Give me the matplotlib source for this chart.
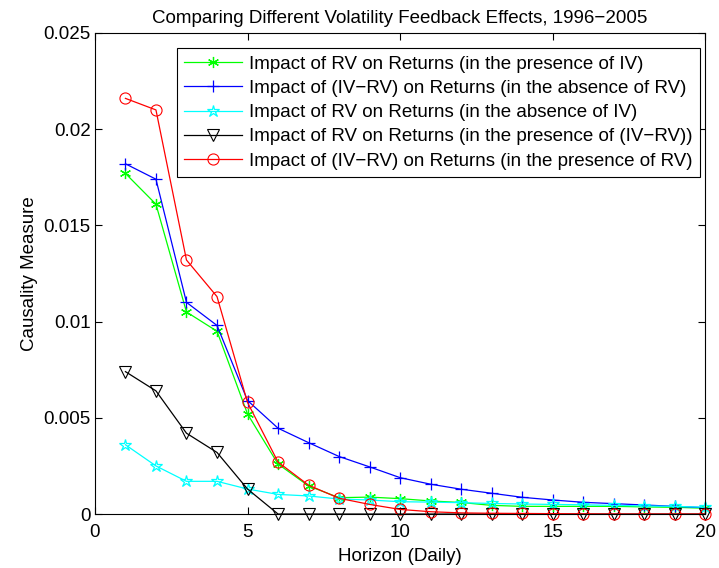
import matplotlib.pyplot as plt
import numpy as np

plt.rcParams['font.family'] = ['Liberation Sans', 'DejaVu Sans']

# horizons 1..20
horizon = np.arange(1, 21)

rv_with_iv = [0.0177, 0.0161, 0.0105, 0.0095, 0.0052, 0.0026, 0.00146, 0.00085, 0.00088, 0.0008,
              0.00068, 0.0006, 0.00045, 0.0004, 0.0004, 0.0004, 0.0004, 0.00037, 0.00035, 0.0003]
ivrv_no_rv = [0.0182, 0.0174, 0.0110, 0.0098, 0.0059, 0.00446, 0.00371, 0.00299, 0.00245, 0.00189,
              0.00155, 0.00129, 0.00108, 0.00087, 0.00073, 0.00061, 0.00054, 0.00047, 0.0004, 0.00033]
rv_no_iv = [0.0036, 0.0025, 0.0017, 0.0017, 0.0013, 0.00102, 0.00094, 0.00078, 0.00073, 0.00064,
            0.00062, 0.00059, 0.00055, 0.00052, 0.0005, 0.00048, 0.00045, 0.00042, 0.0004, 0.00035]
rv_with_ivrv = [0.0074, 0.0064, 0.0042, 0.0032, 0.0013, 0, 0, 0, 0, 0,
                0, 0, 0, 0, 0, 0, 0, 0, 0, 0]
ivrv_with_rv = [0.0216, 0.0210, 0.0132, 0.0113, 0.0058, 0.0027, 0.0015, 0.00082, 0.0005, 0.00024,
                0.00012, 0.00006, 0.00004, 0.00003, 0.00002, 0.00001, 0, 0, 0, 0]

labels = ['Impact of RV on Returns (in the presence of IV)',
          'Impact of (IV\u2212RV) on Returns (in the absence of RV)',
          'Impact of RV on Returns (in the absence of IV)',
          'Impact of RV on Returns (in the presence of (IV\u2212RV))',
          'Impact of (IV\u2212RV) on Returns (in the presence of RV)']

fs = 13.5

fig = plt.figure(figsize=(7.19, 5.68), dpi=100)
ax = fig.add_axes([0.132, 0.095, 0.849, 0.847])

lw = 0.9
ax.plot(horizon, rv_with_iv, color='#00ff00', lw=lw, marker=(6, 2, 0), ms=8, mew=0.9, label=labels[0], clip_on=False)
ax.plot(horizon, ivrv_no_rv, color='#0000ff', lw=lw, marker='+', ms=8, mew=0.9, label=labels[1], clip_on=False)
ax.plot(horizon, rv_no_iv, color='#00ffff', lw=lw, marker='*', ms=9, mew=0.9, mfc='none', label=labels[2], clip_on=False)
ax.plot(horizon, rv_with_ivrv, color='black', lw=lw, marker='v', ms=8, mew=0.8, mfc='none', label=labels[3], clip_on=False)
ax.plot(horizon, ivrv_with_rv, color='#ff0000', lw=lw, marker='o', ms=8, mew=0.8, mfc='none', label=labels[4], clip_on=False)

ax.set_xlim(0, 20)
ax.set_ylim(0, 0.025)
ax.set_xticks([0, 5, 10, 15, 20])
ax.set_yticks([0, 0.005, 0.01, 0.015, 0.02, 0.025])
ax.set_yticklabels(['0', '0.005', '0.01', '0.015', '0.02', '0.025'])
ax.tick_params(direction='in', top=True, right=True, labelsize=fs, length=5)
ax.tick_params(axis='x', pad=7)
ax.tick_params(axis='y', pad=3)
for s in ax.spines.values():
    s.set_linewidth(0.8)

ax.set_xlabel('Horizon (Daily)', fontsize=fs, labelpad=5)
ax.set_ylabel('Causality Measure', fontsize=fs, labelpad=4)
ax.set_title('Comparing Different Volatility Feedback Effects, 1996\u22122005', fontsize=fs, pad=7)

leg = ax.legend(loc='upper right', bbox_to_anchor=(0.9736, 0.9155), bbox_transform=fig.transFigure,
                fontsize=fs, numpoints=1, handlelength=3.1, fancybox=False,
                edgecolor='black', framealpha=1, borderaxespad=0, labelspacing=0.38,
                borderpad=0.4, handletextpad=0.35)
leg.get_frame().set_linewidth(0.8)

fig.savefig('out.png', dpi=100)
